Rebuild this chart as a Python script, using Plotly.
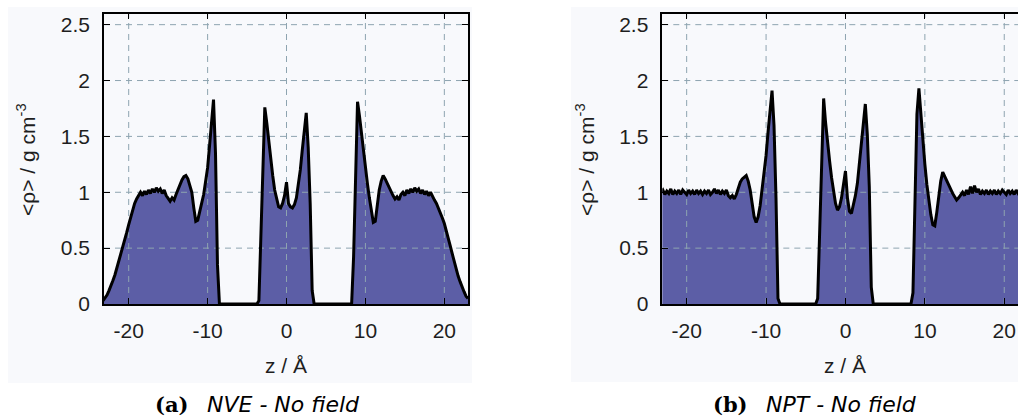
import plotly.graph_objects as go

# Density profiles <rho>(z) on a uniform z grid (Angstrom), g/cm^3
Z_START = -23.25
Z_STEP = 0.25

rho_nve = [
    0.03, 0.05, 0.08, 0.12, 0.16, 0.21, 0.26, 0.32,   # -23.25 .. -21.5
    0.38, 0.44, 0.50, 0.57, 0.64, 0.71, 0.78, 0.85,   # -21.25 .. -19.5
    0.90, 0.94, 0.97, 1.00, 0.97, 1.01, 0.98, 1.02,   # -19.25 .. -17.5
    0.99, 1.03, 1.00, 1.04, 1.01, 1.03, 0.99, 1.02,   # -17.25 .. -15.5
    0.97, 0.95, 0.92, 0.95, 0.93, 0.98, 1.03, 1.08,   # -15.25 .. -13.5
    1.11, 1.14, 1.15, 1.12, 1.07, 1.00, 0.86, 0.74,   # -13.25 .. -11.5
    0.75, 0.82, 0.90, 0.98, 1.10, 1.22, 1.42, 1.62,   # -11.25 .. -9.5
    1.83, 1.35, 0.35, 0.00, 0.00, 0.00, 0.00, 0.00,   # -9.25 .. -7.5
    0.00, 0.00, 0.00, 0.00, 0.00, 0.00, 0.00, 0.00,   # -7.25 .. -5.5
    0.00, 0.00, 0.00, 0.00, 0.00, 0.00, 0.00, 0.03,   # -5.25 .. -3.5
    0.60, 1.30, 1.76, 1.62, 1.45, 1.32, 1.15, 1.02,   # -3.25 .. -1.5
    0.93, 0.87, 0.86, 0.90, 0.97, 1.09, 0.90, 0.87,   # -1.25 .. 0.5
    0.86, 0.89, 0.95, 1.06, 1.20, 1.38, 1.55, 1.71,   # 0.75 .. 2.5
    1.40, 0.90, 0.12, 0.00, 0.00, 0.00, 0.00, 0.00,   # 2.75 .. 4.5
    0.00, 0.00, 0.00, 0.00, 0.00, 0.00, 0.00, 0.00,   # 4.75 .. 6.5
    0.00, 0.00, 0.00, 0.00, 0.00, 0.00, 0.00, 0.42,   # 6.75 .. 8.5
    1.22, 1.81, 1.68, 1.52, 1.38, 1.22, 1.08, 0.95,   # 8.75 .. 10.5
    0.82, 0.73, 0.74, 0.88, 1.02, 1.10, 1.15, 1.12,   # 10.75 .. 12.5
    1.08, 1.05, 1.01, 0.97, 0.94, 0.96, 0.93, 0.98,   # 12.75 .. 14.5
    1.00, 0.97, 1.02, 0.99, 1.03, 1.00, 1.04, 1.01,   # 14.75 .. 16.5
    1.03, 0.99, 1.02, 0.98, 1.01, 0.97, 1.00, 0.96,   # 16.75 .. 18.5
    0.93, 0.90, 0.86, 0.82, 0.77, 0.72, 0.66, 0.59,   # 18.75 .. 20.5
    0.52, 0.45, 0.38, 0.31, 0.25, 0.20, 0.15, 0.11,   # 20.75 .. 22.5
    0.07, 0.05,                                       # 22.75 .. 23.0
]

rho_npt = [
    1.00, 1.02, 0.98, 1.01, 0.99, 1.03, 0.98, 1.01,   # -23.25 .. -21.5
    0.99, 1.02, 0.98, 1.02, 1.00, 0.98, 1.02, 0.99,   # -21.25 .. -19.5
    1.01, 0.98, 1.02, 0.99, 1.01, 0.98, 1.01, 0.99,   # -19.25 .. -17.5
    1.02, 0.98, 1.00, 1.03, 0.99, 1.02, 0.98, 1.01,   # -17.25 .. -15.5
    0.99, 1.02, 0.97, 0.95, 0.97, 0.94, 0.98, 1.04,   # -15.25 .. -13.5
    1.09, 1.12, 1.14, 1.15, 1.10, 1.02, 0.90, 0.78,   # -13.25 .. -11.5
    0.73, 0.78, 0.88, 1.02, 1.17, 1.33, 1.54, 1.72,   # -11.25 .. -9.5
    1.91, 1.60, 0.95, 0.05, 0.00, 0.00, 0.00, 0.00,   # -9.25 .. -7.5
    0.00, 0.00, 0.00, 0.00, 0.00, 0.00, 0.00, 0.00,   # -7.25 .. -5.5
    0.00, 0.00, 0.00, 0.00, 0.00, 0.00, 0.00, 0.05,   # -5.25 .. -3.5
    0.65, 1.40, 1.84, 1.62, 1.43, 1.28, 1.13, 1.00,   # -3.25 .. -1.5
    0.90, 0.84, 0.87, 0.95, 1.07, 1.19, 0.95, 0.83,   # -1.25 .. 0.5
    0.81, 0.88, 0.97, 1.08, 1.25, 1.43, 1.60, 1.79,   # 0.75 .. 2.5
    1.52, 1.05, 0.15, 0.00, 0.00, 0.00, 0.00, 0.00,   # 2.75 .. 4.5
    0.00, 0.00, 0.00, 0.00, 0.00, 0.00, 0.00, 0.00,   # 4.75 .. 6.5
    0.00, 0.00, 0.00, 0.00, 0.00, 0.00, 0.00, 0.10,   # 6.75 .. 8.5
    0.90, 1.70, 1.93, 1.68, 1.45, 1.25, 1.07, 0.92,   # 8.75 .. 10.5
    0.80, 0.71, 0.70, 0.82, 0.98, 1.10, 1.18, 1.14,   # 10.75 .. 12.5
    1.10, 1.06, 1.03, 0.99, 0.96, 0.93, 0.95, 0.97,   # 12.75 .. 14.5
    1.00, 0.97, 1.02, 0.98, 1.05, 0.99, 1.06, 1.00,   # 14.75 .. 16.5
    1.03, 0.98, 1.01, 0.99, 1.02, 0.98, 1.01, 0.99,   # 16.75 .. 18.5
    1.02, 0.98, 1.01, 0.99, 1.02, 1.00, 0.98, 1.02,   # 18.75 .. 20.5
    0.99, 1.01, 0.98, 1.02, 0.99, 1.01, 0.98, 1.02,   # 20.75 .. 22.5
    0.99, 1.01,                                       # 22.75 .. 23.0
]

x_ticks = [-20, -10, 0, 10, 20]
x_tick_text = ["-20", "-10", "0", "10", "20"]
y_ticks = [0, 0.5, 1, 1.5, 2, 2.5]
y_tick_text = ["0", "0.5", "1", "1.5", "2", "2.5"]

panel_tags = ["(a)", "(b)"]
panel_titles = ["NVE - No field", "NPT - No field"]

W, H = 1018, 417
FILL = "#5c5ea6"
GRID = "#8ea4b0"
TXT = "#1e1e1e"
SANS = "Liberation Sans"


def fx(p):
    return p / W


def fy(p):
    return 1 - p / H


def z_grid(values):
    return [Z_START + Z_STEP * i for i in range(len(values))]


# pixel geometry of the two frames
panels = [
    dict(rho=rho_nve, xdom=[fx(104), fx(468)], xrange=[-23.13, 23.0],
         ytitle_x=26, xtitle_x=286, tag_right=190, title_left=205, mirror_y="ticks"),
    dict(rho=rho_npt, xdom=[fx(662.3), 1.0], xrange=[-23.07, 21.73],
         ytitle_x=585, xtitle_x=845, tag_right=750, title_left=764, mirror_y=False),
]
YDOM = [fy(304), fy(13.5)]
YRANGE = [0, 2.6]
CAPTION_Y = 404.5

fig = go.Figure()
annotations = []
shapes = [
    dict(type="rect", xref="paper", yref="paper", x0=fx(8), x1=fx(472),
         y0=fy(383), y1=fy(7), fillcolor="#f8f9fc", line=dict(width=0), layer="below"),
    dict(type="rect", xref="paper", yref="paper", x0=fx(571), x1=1.0,
         y0=fy(382), y1=fy(7), fillcolor="#f8f9fc", line=dict(width=0), layer="below"),
]

for k, p in enumerate(panels):
    sfx = "" if k == 0 else str(k + 1)
    xref, yref = "x" + sfx, "y" + sfx
    z = z_grid(p["rho"])

    # filled area under the profile
    fig.add_trace(go.Scatter(x=z, y=p["rho"], xaxis=xref, yaxis=yref, mode="lines",
                             line=dict(width=0, color=FILL), fill="tozeroy",
                             fillcolor=FILL, hoverinfo="skip", showlegend=False))

    # dashed grid drawn over the fill
    gx, gy = [], []
    for t in x_ticks:
        gx += [t, t, None]
        gy += [YRANGE[0], YRANGE[1], None]
    for t in y_ticks[1:]:
        gx += [p["xrange"][0], p["xrange"][1], None]
        gy += [t, t, None]
    fig.add_trace(go.Scatter(x=gx, y=gy, xaxis=xref, yaxis=yref, mode="lines",
                             line=dict(width=1, color=GRID, dash="6px,5px"),
                             hoverinfo="skip", showlegend=False))

    # profile outline
    fig.add_trace(go.Scatter(x=z, y=p["rho"], xaxis=xref, yaxis=yref, mode="lines",
                             line=dict(width=3, color="black"),
                             hoverinfo="skip", showlegend=False))

    axis_common = dict(showgrid=False, zeroline=False, showline=True, linecolor="black",
                       linewidth=1.5, ticks="inside", ticklen=6, tickwidth=1,
                       tickcolor="black", layer="above traces", automargin=False,
                       tickfont=dict(family=SANS, size=21, color=TXT))
    fig.layout["xaxis" + sfx] = dict(axis_common, domain=p["xdom"], range=p["xrange"],
                                     anchor=yref, tickvals=x_ticks, ticktext=x_tick_text,
                                     mirror="ticks", ticklabelstandoff=7)
    fig.layout["yaxis" + sfx] = dict(axis_common, domain=YDOM, range=YRANGE,
                                     anchor=xref, tickvals=y_ticks, ticktext=y_tick_text,
                                     mirror=p["mirror_y"], ticklabelstandoff=8)

    annotations += [
        dict(text="&lt;ρ&gt; / g cm<sup>-3</sup>", xref="paper", yref="paper",
             x=fx(p["ytitle_x"]), y=fy(160), xanchor="center", yanchor="middle",
             textangle=-90, showarrow=False, font=dict(family=SANS, size=21, color=TXT)),
        dict(text="z / Å", xref="paper", yref="paper", x=fx(p["xtitle_x"]), y=fy(365),
             xanchor="center", yanchor="middle", showarrow=False,
             font=dict(family=SANS, size=21, color=TXT)),
        dict(text="<b>" + panel_tags[k] + "</b>", xref="paper", yref="paper",
             x=fx(p["tag_right"]), y=fy(CAPTION_Y), xanchor="right", yanchor="middle",
             showarrow=False, font=dict(family="DejaVu Serif", size=21, color="black")),
        dict(text="<i>" + panel_titles[k] + "</i>", xref="paper", yref="paper",
             x=fx(p["title_left"]), y=fy(CAPTION_Y), xanchor="left", yanchor="middle",
             showarrow=False, font=dict(family="DejaVu Sans", size=22, color="black")),
    ]

fig.update_layout(width=W, height=H, margin=dict(l=0, r=0, t=0, b=0, autoexpand=False),
                  paper_bgcolor="white", plot_bgcolor="white",
                  annotations=annotations, shapes=shapes, showlegend=False)

fig.write_html("out.html")
